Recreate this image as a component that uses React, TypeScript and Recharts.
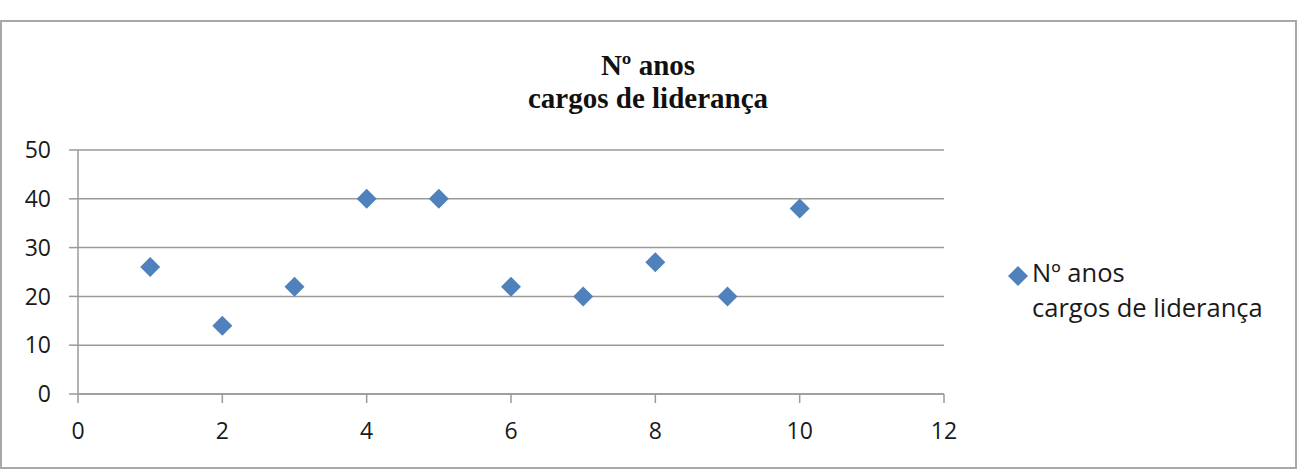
import React from "react";
import { ScatterChart, Scatter, XAxis, YAxis, CartesianGrid, Legend } from "recharts";

const xValues = [1, 2, 3, 4, 5, 6, 7, 8, 9, 10];
const yValues = [26, 14, 22, 40, 40, 22, 20, 27, 20, 38];
const xTicks = [0, 2, 4, 6, 8, 10, 12];
const yTicks = [0, 10, 20, 30, 40, 50];
const seriesName = ["Nº anos", "cargos de liderança"];
const titleLines = ["Nº anos", "cargos de liderança"];

const data = xValues.map((x, i) => ({ x, y: yValues[i] }));

const COLOR = "#4F81BD";
const GRID = "#9a9a9a";
const TICK_FONT = { fontFamily: "'Open Sans', sans-serif", fontSize: 23, fill: "#1a1a1a" };

const Diamond = (props: any) => {
  const { cx, cy } = props;
  if (cx == null || cy == null) return null;
  const r = 10;
  return (
    <polygon
      points={`${cx},${cy - r} ${cx + r},${cy} ${cx},${cy + r} ${cx - r},${cy}`}
      fill={COLOR}
    />
  );
};

const LegendContent = () => (
  <div style={{ position: "relative", fontFamily: "'Open Sans', sans-serif", fontSize: 25.5, lineHeight: "35px", color: "#1a1a1a" }}>
    <svg width={22} height={22} style={{ position: "absolute", left: -25, top: 10 }}>
      <polygon points="11,1 21,11 11,21 1,11" fill={COLOR} />
    </svg>
    <div>{seriesName[0]}</div>
    <div style={{ whiteSpace: "nowrap" }}>{seriesName[1]}</div>
  </div>
);

export default function App() {
  return (
    <div style={{ position: "absolute", left: 0, top: 0, width: 1311, height: 471, background: "#fff" }}>
      <div
        style={{
          position: "absolute",
          left: 0,
          top: 20,
          width: 1297,
          height: 449,
          border: "2px solid #a8a8a8",
          boxSizing: "border-box",
        }}
      />
      <div
        style={{
          position: "absolute",
          left: 0,
          top: 49,
          width: 1296,
          textAlign: "center",
          fontFamily: "'Liberation Serif', 'Times New Roman', serif",
          fontWeight: "bold",
          fontSize: 29,
          lineHeight: "33px",
          color: "#111",
        }}
      >
        <div>{titleLines[0]}</div>
        <div>{titleLines[1]}</div>
      </div>
      <div style={{ position: "absolute", left: 0, top: 0 }}>
        <ScatterChart
          width={1311}
          height={471}
          margin={{ top: 150, right: 367, bottom: 17, left: 18 }}
        >
          <CartesianGrid horizontal={true} vertical={false} stroke={GRID} strokeWidth={1.5} />
          <XAxis
            type="number"
            dataKey="x"
            domain={[0, 12]}
            ticks={xTicks}
            interval={0}
            height={60}
            tickSize={9}
            tickMargin={20}
            axisLine={{ stroke: GRID, strokeWidth: 1.5 }}
            tickLine={{ stroke: GRID, strokeWidth: 1.5 }}
            tick={TICK_FONT}
          />
          <YAxis
            type="number"
            dataKey="y"
            domain={[0, 50]}
            ticks={yTicks}
            interval={0}
            width={60}
            tickSize={9}
            tickMargin={18}
            axisLine={{ stroke: GRID, strokeWidth: 1.5 }}
            tickLine={{ stroke: GRID, strokeWidth: 1.5 }}
            tick={TICK_FONT}
          />
          <Legend
            layout="horizontal"
            verticalAlign="middle"
            align="center"
            content={<LegendContent />}
            wrapperStyle={{ left: 1032, top: 255, width: 275, height: 80 }}
          />
          <Scatter
            name={seriesName.join(" ")}
            data={data}
            shape={<Diamond />}
            isAnimationActive={false}
          />
        </ScatterChart>
      </div>
    </div>
  );
}
